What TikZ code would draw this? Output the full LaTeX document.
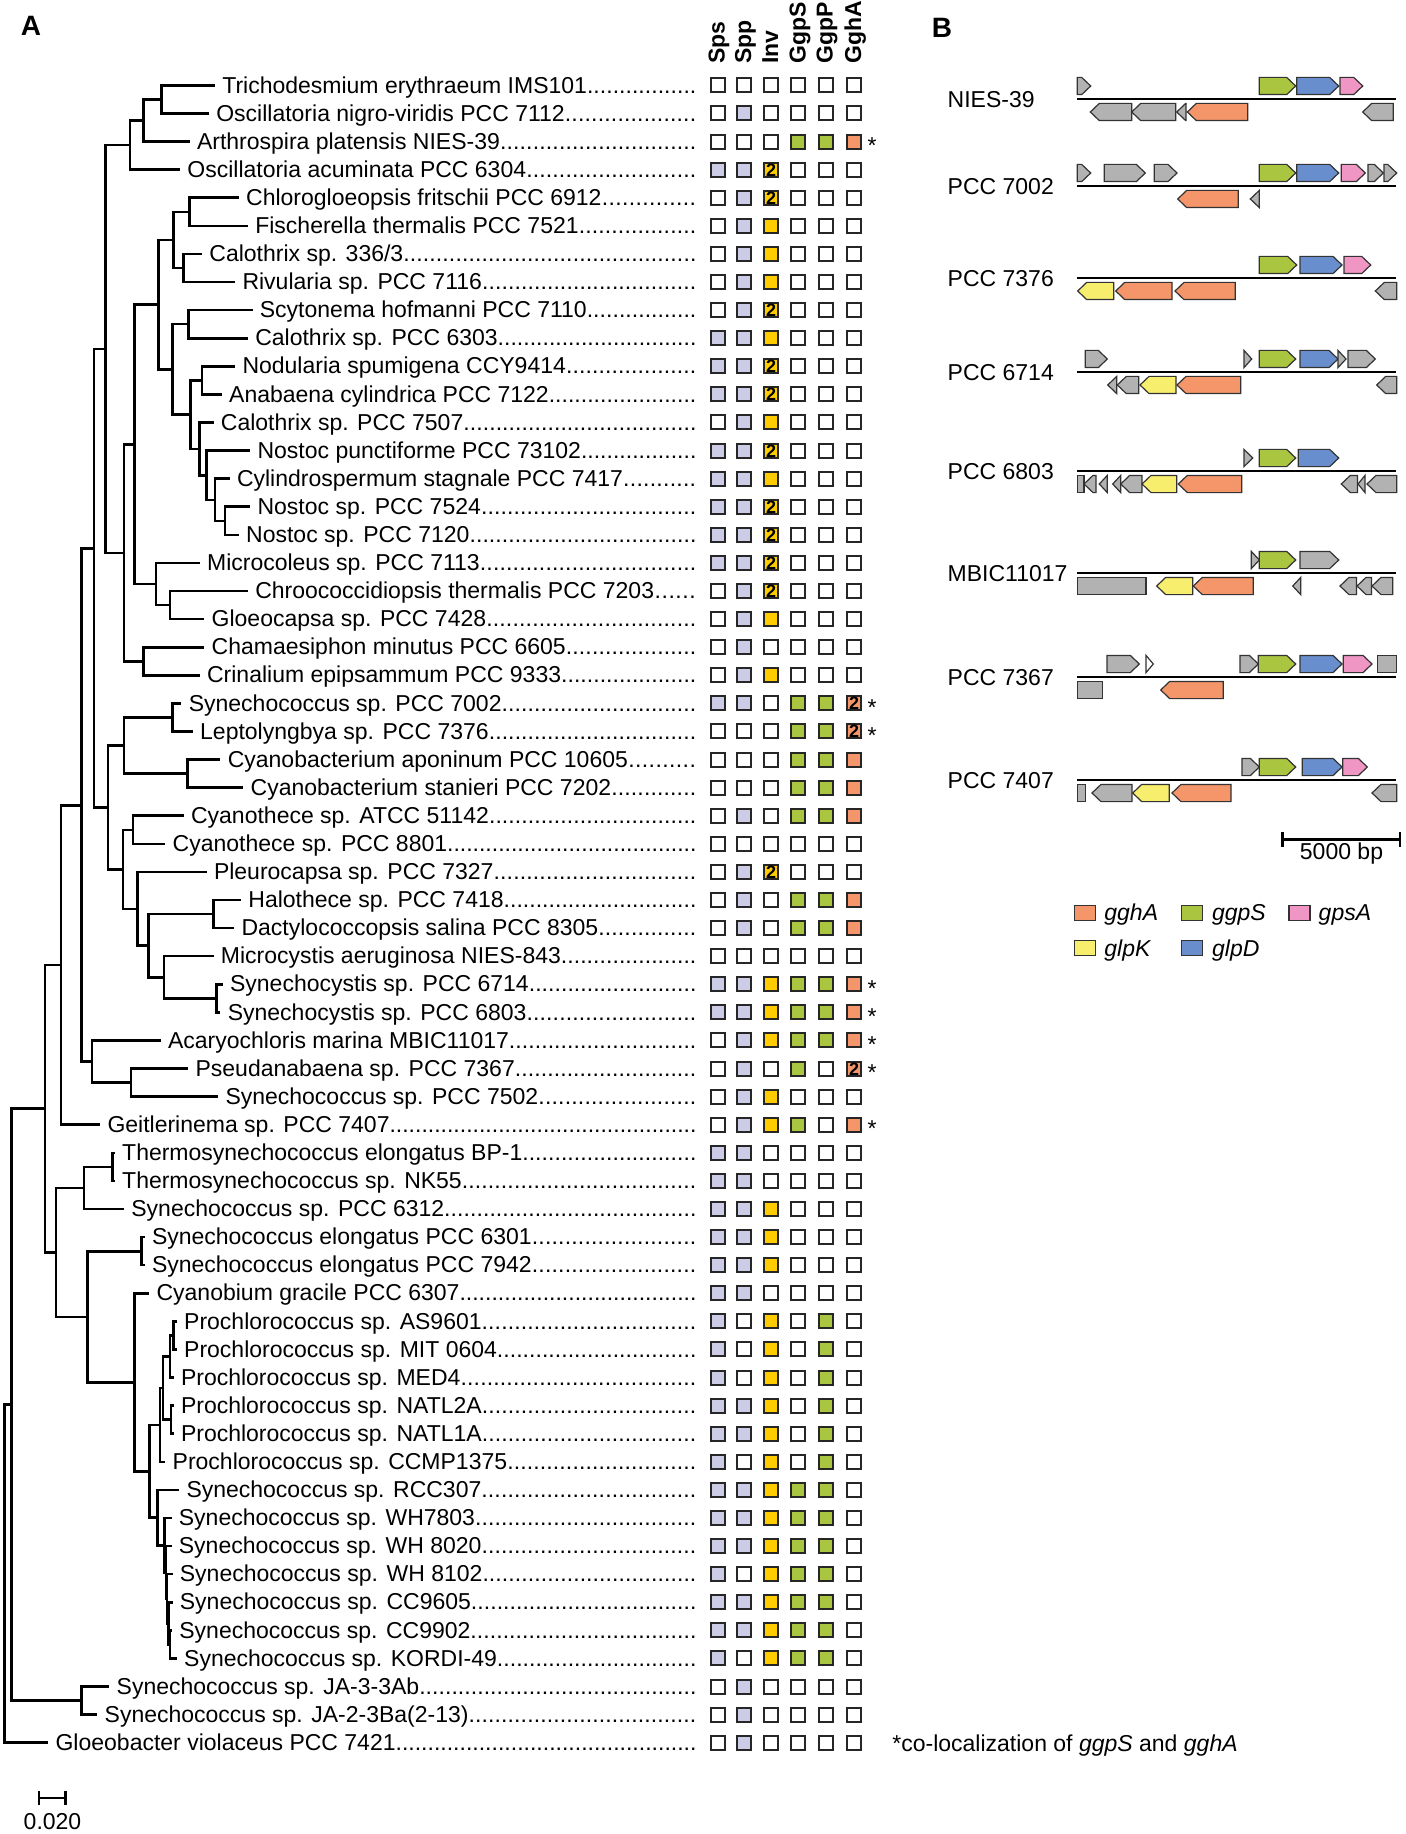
\documentclass[tikz,border=0pt]{standalone}
\usepackage{fontspec}
\setmainfont{Liberation Sans}
\definecolor{lav}{RGB}{204,204,230}
\definecolor{invy}{RGB}{255,204,0}
\definecolor{ggreen}{RGB}{170,197,64}
\definecolor{gorange}{RGB}{244,150,106}
\definecolor{ggray}{RGB}{178,178,178}
\definecolor{gblue}{RGB}{104,142,206}
\definecolor{gpink}{RGB}{240,150,196}
\definecolor{gyellow}{RGB}{248,238,110}
\newcommand\ft{\fontsize{11.5}{13.8}\selectfont}
\def\sqtT{2}
\def\sqtP{2}
\newcommand\taxon[4]{%
  \pgfmathsetmacro\ry{85.4+28.09*#2}%
  \pgfmathsetmacro\lx{#3+7}%
  \pgfmathsetmacro\tw{(696-#3-7)*0.5}%
  \coordinate (#1) at (#3,\ry);%
  \node[tax] (#1t) at (\lx,\ry+7.7) {\hbox to \tw pt{#4\xleaders\hbox{.}\hfill}};%
}
\newcommand\br[3]{\draw[brl] (#1) |- (#2) (#1) |- (#3);}
\newcommand\mrow[7]{%
  \pgfmathsetmacro\ry{round(85.4+28.09*#1)}%
  \node[sq,s#2] (m#1a) at (718,\ry) {\csname sqt#2\endcsname};%
  \node[sq,s#3] (m#1b) at (744,\ry) {\csname sqt#3\endcsname};%
  \node[sq,s#4] (m#1c) at (771,\ry) {\csname sqt#4\endcsname};%
  \node[sq,s#5] (m#1d) at (798,\ry) {\csname sqt#5\endcsname};%
  \node[sq,s#6] (m#1e) at (826,\ry) {\csname sqt#6\endcsname};%
  \node[sq,s#7] (m#1f) at (854,\ry) {\csname sqt#7\endcsname};%
}
\newcommand\stmark[1]{\pgfmathsetmacro\ry{85.4+28.09*#1}\node[starm] (st#1) at (872,\ry+12) {*};}
\newcommand\gU[4]{\pgfmathsetmacro\tp{min(9,#2-#1)}\filldraw[gene,fill=#4] (#1,#3-21.6) -- ({#2-\tp},#3-21.6) -- (#2,#3-13) -- ({#2-\tp},#3-4.4) -- (#1,#3-4.4) -- cycle;}
\newcommand\gD[4]{\pgfmathsetmacro\tp{min(9,#2-#1)}\filldraw[gene,fill=#4] (#1,#3+13) -- ({#1+\tp},#3+4.4) -- (#2,#3+4.4) -- (#2,#3+21.6) -- ({#1+\tp},#3+21.6) -- cycle;}
\newcommand\rU[4]{\filldraw[gene,fill=#4] (#1,#3-21.6) rectangle (#2,#3-4.4);}
\newcommand\rD[4]{\filldraw[gene,fill=#4] (#1,#3+4.4) rectangle (#2,#3+21.6);}
\begin{document}
\begin{tikzpicture}[x=0.5pt,y=-0.5pt,
  brl/.style={line width=1.3pt,black},
  tax/.style={anchor=base west,inner sep=0pt,font=\ft},
  hdr/.style={rotate=90,anchor=base west,inner sep=0pt,font=\ft\bfseries},
  sq/.style={draw=black!85,line width=1pt,minimum size=7pt,inner sep=0pt,font=\fontsize{9}{9}\bfseries\selectfont},
  s0/.style={fill=white}, sL/.style={fill=lav}, sY/.style={fill=invy}, sT/.style={fill=invy},
  sG/.style={fill=ggreen}, sO/.style={fill=gorange}, sP/.style={fill=gorange},
  starm/.style={anchor=base,inner sep=0pt,font=\ft},
  gene/.style={draw=black!80,line width=0.6pt,line join=miter},
  glab/.style={anchor=base west,inner sep=0pt,font=\ft},
  lgsq/.style={draw=black!80,line width=0.6pt,minimum width=10.5pt,minimum height=7.6pt,inner sep=0pt},
  panel/.style={inner sep=0pt,font=\fontsize{14}{16}\selectfont\bfseries}]
\fill[white] (0,0) rectangle (1406,1834);
\useasboundingbox (0,0) rectangle (1406,1834);

\node[panel] (pA) at (31,26) {A};
\node[panel] (pB) at (942,27.5) {B};

% headers
\node[hdr] (hSps) at (724.5,64) {Sps};
\node[hdr] (hSpp) at (751,64) {Spp};
\node[hdr] (hInv) at (778,64) {Inv};
\node[hdr] (hGgpS) at (805.5,64) {GgpS};
\node[hdr] (hGgpP) at (832.5,64) {GgpP};
\node[hdr] (hGghA) at (861,64) {GghA};

% taxa
\taxon{l0}{0}{214.9}{Trichodesmium erythraeum IMS101}
\taxon{l1}{1}{208.9}{Oscillatoria nigro-viridis PCC 7112}
\taxon{l2}{2}{189.6}{Arthrospira platensis NIES-39}
\taxon{l3}{3}{180.0}{Oscillatoria acuminata PCC 6304}
\taxon{l4}{4}{238.8}{Chlorogloeopsis fritschii PCC 6912}
\taxon{l5}{5}{247.9}{Fischerella thermalis PCC 7521}
\taxon{l6}{6}{202.0}{Calothrix sp. 336/3}
\taxon{l7}{7}{235.1}{Rivularia sp. PCC 7116}
\taxon{l8}{8}{252.5}{Scytonema hofmanni PCC 7110}
\taxon{l9}{9}{247.9}{Calothrix sp. PCC 6303}
\taxon{l10}{10}{235.1}{Nodularia spumigena CCY9414}
\taxon{l11}{11}{221.8}{Anabaena cylindrica PCC 7122}
\taxon{l12}{12}{213.5}{Calothrix sp. PCC 7507}
\taxon{l13}{13}{250.2}{Nostoc punctiforme PCC 73102}
\taxon{l14}{14}{229.6}{Cylindrospermum stagnale PCC 7417}
\taxon{l15}{15}{250.2}{Nostoc sp. PCC 7524}
\taxon{l16}{16}{238.8}{Nostoc sp. PCC 7120}
\taxon{l17}{17}{199.7}{Microcoleus sp. PCC 7113}
\taxon{l18}{18}{247.9}{Chroococcidiopsis thermalis PCC 7203}
\taxon{l19}{19}{204.3}{Gloeocapsa sp. PCC 7428}
\taxon{l20}{20}{204.3}{Chamaesiphon minutus PCC 6605}
\taxon{l21}{21}{199.7}{Crinalium epipsammum PCC 9333}
\taxon{l22}{22}{181.4}{Synechococcus sp. PCC 7002}
\taxon{l23}{23}{192.8}{Leptolyngbya sp. PCC 7376}
\taxon{l24}{24}{220.4}{Cyanobacterium aponinum PCC 10605}
\taxon{l25}{25}{243.3}{Cyanobacterium stanieri PCC 7202}
\taxon{l26}{26}{183.7}{Cyanothece sp. ATCC 51142}
\taxon{l27}{27}{165.3}{Cyanothece sp. PCC 8801}
\taxon{l28}{28}{206.6}{Pleurocapsa sp. PCC 7327}
\taxon{l29}{29}{241.0}{Halothece sp. PCC 7418}
\taxon{l30}{30}{234.2}{Dactylococcopsis salina PCC 8305}
\taxon{l31}{31}{213.5}{Microcystis aeruginosa NIES-843}
\taxon{l32}{32}{222.7}{Synechocystis sp. PCC 6714}
\taxon{l33}{33}{220.4}{Synechocystis sp. PCC 6803}
\taxon{l34}{34}{160.7}{Acaryochloris marina MBIC11017}
\taxon{l35}{35}{188.2}{Pseudanabaena sp. PCC 7367}
\taxon{l36}{36}{218.1}{Synechococcus sp. PCC 7502}
\taxon{l37}{37}{100.1}{Geitlerinema sp. PCC 7407}
\taxon{l38}{38}{114.8}{Thermosynechococcus elongatus BP-1}
\taxon{l39}{39}{114.8}{Thermosynechococcus sp. NK55}
\taxon{l40}{40}{124.0}{Synechococcus sp. PCC 6312}
\taxon{l41}{41}{144.6}{Synechococcus elongatus PCC 6301}
\taxon{l42}{42}{144.6}{Synechococcus elongatus PCC 7942}
\taxon{l43}{43}{149.2}{Cyanobium gracile PCC 6307}
\taxon{l44}{44}{176.8}{Prochlorococcus sp. AS9601}
\taxon{l45}{45}{176.8}{Prochlorococcus sp. MIT 0604}
\taxon{l46}{46}{173.6}{Prochlorococcus sp. MED4}
\taxon{l47}{47}{173.6}{Prochlorococcus sp. NATL2A}
\taxon{l48}{48}{173.6}{Prochlorococcus sp. NATL1A}
\taxon{l49}{49}{165.3}{Prochlorococcus sp. CCMP1375}
\taxon{l50}{50}{179.1}{Synechococcus sp. RCC307}
\taxon{l51}{51}{171.5}{Synechococcus sp. WH7803}
\taxon{l52}{52}{171.5}{Synechococcus sp. WH 8020}
\taxon{l53}{53}{172.5}{Synechococcus sp. WH 8102}
\taxon{l54}{54}{172.5}{Synechococcus sp. CC9605}
\taxon{l55}{55}{172.0}{Synechococcus sp. CC9902}
\taxon{l56}{56}{176.8}{Synechococcus sp. KORDI-49}
\taxon{l57}{57}{109.3}{Synechococcus sp. JA-3-3Ab}
\taxon{l58}{58}{97.3}{Synechococcus sp. JA-2-3Ba(2-13)}
\taxon{l59}{59}{48.2}{Gloeobacter violaceus PCC 7421}

% internal nodes
\coordinate (n01) at (161.6,99.5);
\coordinate (n012) at (143.7,120.6);
\coordinate (n0123) at (129.9,145.2);
\coordinate (n45) at (189.6,211.9);
\coordinate (n67) at (183.7,268.0);
\coordinate (n4567) at (173.6,240.0);
\coordinate (n89) at (188.2,324.2);
\coordinate (n1011) at (202.0,380.4);
\coordinate (n1516) at (225.0,520.8);
\coordinate (n1416) at (214.9,499.8);
\coordinate (n1316) at (206.6,475.2);
\coordinate (n1216) at (199.7,448.9);
\coordinate (nP) at (190.5,414.6);
\coordinate (nQ) at (172.2,369.4);
\coordinate (nR) at (158.4,304.7);
\coordinate (n1819) at (169.9,605.1);
\coordinate (nM) at (156.1,584.0);
\coordinate (nS) at (134.5,444.4);
\coordinate (n2021) at (143.7,661.3);
\coordinate (nT) at (124.0,552.8);
\coordinate (nX) at (105.6,349.0);
\coordinate (n2223) at (172.2,717.5);
\coordinate (n2425) at (187.3,773.7);
\coordinate (n2225) at (124.0,745.6);
\coordinate (n2627) at (133.1,829.8);
\coordinate (n2930) at (213.5,914.1);
\coordinate (n3233) at (216.7,998.4);
\coordinate (n3133) at (163.9,977.3);
\coordinate (n2933) at (148.3,945.7);
\coordinate (n2833) at (137.7,908.8);
\coordinate (n2633) at (123.0,869.3);
\coordinate (nZ) at (107.9,807.5);
\coordinate (nY) at (94.1,548.7);
\coordinate (n3536) at (130.9,1082.6);
\coordinate (n3436) at (91.8,1061.6);
\coordinate (nW) at (81.7,805.2);
\coordinate (nV) at (61.1,965.0);
\coordinate (n3839) at (112.5,1166.9);
\coordinate (n3840) at (84.0,1188.0);
\coordinate (n4142) at (141.4,1251.2);
\coordinate (n4445) at (173.6,1335.5);
\coordinate (n4446) at (169.9,1356.5);
\coordinate (n4748) at (170.8,1419.7);
\coordinate (n4448) at (163.0,1388.1);
\coordinate (n4449) at (159.8,1425.0);
\coordinate (n5556) at (170.0,1644.4);
\coordinate (n5456) at (168.5,1623.4);
\coordinate (n5356) at (167.0,1598.8);
\coordinate (n5256) at (166.0,1572.5);
\coordinate (n5156) at (164.5,1545.2);
\coordinate (n5056) at (157.5,1517.6);
\coordinate (n4456) at (149.2,1471.3);
\coordinate (n4356) at (134.5,1382.3);
\coordinate (n4156) at (87.2,1316.8);
\coordinate (n3856) at (56.0,1252.4);
\coordinate (nU) at (45.0,1108.7);
\coordinate (n5758) at (81.7,1700.6);
\coordinate (nK) at (11.5,1404.7);
\coordinate (nRoot) at (4.6,1573.7);

% branches
\br{n01}{l0}{l1}
\br{n012}{n01}{l2}
\br{n0123}{n012}{l3}
\br{n45}{l4}{l5}
\br{n67}{l6}{l7}
\br{n4567}{n45}{n67}
\br{n89}{l8}{l9}
\br{n1011}{l10}{l11}
\br{n1516}{l15}{l16}
\br{n1416}{l14}{n1516}
\br{n1316}{l13}{n1416}
\br{n1216}{l12}{n1316}
\br{nP}{n1011}{n1216}
\br{nQ}{n89}{nP}
\br{nR}{n4567}{nQ}
\br{n1819}{l18}{l19}
\br{nM}{l17}{n1819}
\br{nS}{nR}{nM}
\br{n2021}{l20}{l21}
\br{nT}{nS}{n2021}
\br{nX}{n0123}{nT}
\br{n2223}{l22}{l23}
\br{n2425}{l24}{l25}
\br{n2225}{n2223}{n2425}
\br{n2627}{l26}{l27}
\br{n2930}{l29}{l30}
\br{n3233}{l32}{l33}
\br{n3133}{l31}{n3233}
\br{n2933}{n2930}{n3133}
\br{n2833}{l28}{n2933}
\br{n2633}{n2627}{n2833}
\br{nZ}{n2225}{n2633}
\br{nY}{nX}{nZ}
\br{n3536}{l35}{l36}
\br{n3436}{l34}{n3536}
\br{nW}{nY}{n3436}
\br{nV}{nW}{l37}
\br{n3839}{l38}{l39}
\br{n3840}{n3839}{l40}
\br{n4142}{l41}{l42}
\br{n4445}{l44}{l45}
\br{n4446}{n4445}{l46}
\br{n4748}{l47}{l48}
\br{n4448}{n4446}{n4748}
\br{n4449}{n4448}{l49}
\br{n5556}{l55}{l56}
\br{n5456}{l54}{n5556}
\br{n5356}{l53}{n5456}
\br{n5256}{l52}{n5356}
\br{n5156}{l51}{n5256}
\br{n5056}{l50}{n5156}
\br{n4456}{n4449}{n5056}
\br{n4356}{l43}{n4456}
\br{n4156}{n4142}{n4356}
\br{n3856}{n3840}{n4156}
\br{nU}{nV}{n3856}
\br{n5758}{l57}{l58}
\br{nK}{nU}{n5758}
\br{nRoot}{nK}{l59}

% tree scale bar
\coordinate (sb1) at (39,1798);
\coordinate (sb2) at (65.7,1798);
\draw[line width=1.3pt] (sb1) -- (sb2);
\draw[line width=1.3pt] ([yshift=3.3pt]sb1) -- ([yshift=-3.3pt]sb1);
\draw[line width=1.3pt] ([yshift=3.3pt]sb2) -- ([yshift=-3.3pt]sb2);
\node[anchor=base,inner sep=0pt,font=\ft] (sbl) at (52.5,1829) {0.020};

% matrix
\mrow{0}{0}{0}{0}{0}{0}{0}
\mrow{1}{0}{L}{0}{0}{0}{0}
\mrow{2}{0}{0}{0}{G}{G}{O}
\mrow{3}{L}{L}{T}{0}{0}{0}
\mrow{4}{0}{L}{T}{0}{0}{0}
\mrow{5}{0}{L}{Y}{0}{0}{0}
\mrow{6}{0}{L}{Y}{0}{0}{0}
\mrow{7}{0}{L}{Y}{0}{0}{0}
\mrow{8}{0}{L}{T}{0}{0}{0}
\mrow{9}{L}{L}{Y}{0}{0}{0}
\mrow{10}{L}{L}{T}{0}{0}{0}
\mrow{11}{L}{L}{T}{0}{0}{0}
\mrow{12}{0}{L}{Y}{0}{0}{0}
\mrow{13}{L}{L}{T}{0}{0}{0}
\mrow{14}{L}{L}{Y}{0}{0}{0}
\mrow{15}{L}{L}{T}{0}{0}{0}
\mrow{16}{L}{L}{T}{0}{0}{0}
\mrow{17}{L}{L}{T}{0}{0}{0}
\mrow{18}{0}{L}{T}{0}{0}{0}
\mrow{19}{0}{L}{Y}{0}{0}{0}
\mrow{20}{0}{L}{0}{0}{0}{0}
\mrow{21}{0}{L}{Y}{0}{0}{0}
\mrow{22}{L}{L}{0}{G}{G}{P}
\mrow{23}{0}{0}{0}{G}{G}{P}
\mrow{24}{0}{0}{0}{G}{G}{O}
\mrow{25}{0}{0}{0}{G}{G}{O}
\mrow{26}{0}{L}{0}{G}{G}{O}
\mrow{27}{0}{0}{0}{0}{0}{0}
\mrow{28}{0}{L}{T}{0}{0}{0}
\mrow{29}{0}{L}{0}{G}{G}{O}
\mrow{30}{0}{L}{0}{G}{G}{O}
\mrow{31}{0}{0}{0}{0}{0}{0}
\mrow{32}{L}{L}{Y}{G}{G}{O}
\mrow{33}{L}{L}{Y}{G}{G}{O}
\mrow{34}{0}{L}{Y}{G}{G}{O}
\mrow{35}{0}{L}{0}{G}{0}{P}
\mrow{36}{0}{L}{Y}{0}{0}{0}
\mrow{37}{0}{L}{Y}{G}{0}{O}
\mrow{38}{L}{L}{0}{0}{0}{0}
\mrow{39}{L}{L}{0}{0}{0}{0}
\mrow{40}{L}{L}{Y}{0}{0}{0}
\mrow{41}{L}{L}{Y}{0}{0}{0}
\mrow{42}{L}{L}{Y}{0}{0}{0}
\mrow{43}{L}{L}{0}{0}{0}{0}
\mrow{44}{L}{0}{Y}{0}{G}{0}
\mrow{45}{L}{0}{Y}{0}{G}{0}
\mrow{46}{L}{0}{Y}{0}{G}{0}
\mrow{47}{L}{L}{Y}{0}{G}{0}
\mrow{48}{L}{L}{Y}{0}{G}{0}
\mrow{49}{L}{0}{Y}{0}{G}{0}
\mrow{50}{L}{L}{Y}{G}{G}{0}
\mrow{51}{L}{L}{Y}{G}{G}{0}
\mrow{52}{L}{L}{Y}{G}{G}{0}
\mrow{53}{L}{0}{Y}{G}{G}{0}
\mrow{54}{L}{L}{Y}{G}{G}{0}
\mrow{55}{L}{L}{Y}{G}{G}{0}
\mrow{56}{L}{0}{Y}{G}{G}{0}
\mrow{57}{0}{L}{0}{0}{0}{0}
\mrow{58}{0}{L}{0}{0}{0}{0}
\mrow{59}{0}{L}{0}{0}{0}{0}
\stmark{2}\stmark{22}\stmark{23}\stmark{32}\stmark{33}\stmark{34}\stmark{35}\stmark{37}
\node[anchor=base west,inner sep=0pt,font=\ft] (foot) at (892,1751) {*co-localization of \textit{ggpS} and \textit{gghA}};

% panel B labels and lines
\foreach \nm/\ly/\lab in {b1/99/NIES-39,b2/186/PCC 7002,b3/278/PCC 7376,b4/372/PCC 6714,b5/471/PCC 6803,b6/573/MBIC11017,b7/677/PCC 7367,b8/780/PCC 7407}{
  \node[glab] (\nm) at (947.3,\ly+8.2) {\lab};
  \draw[line width=1pt] (1077,\ly) -- (1396,\ly);
}
% NIES-39
\gU{1077.3}{1090.7}{99}{ggray}\gU{1259.3}{1295.7}{99}{ggreen}\gU{1296.7}{1338.7}{99}{gblue}\gU{1340}{1362.7}{99}{gpink}
\gD{1090.3}{1131.7}{99}{ggray}\gD{1131.7}{1175.7}{99}{ggray}\gD{1176.7}{1186}{99}{ggray}\gD{1187.3}{1247.7}{99}{gorange}\gD{1362.7}{1393.3}{99}{ggray}
% PCC 7002
\gU{1077.3}{1090.7}{186}{ggray}\gU{1104.3}{1145.3}{186}{ggray}\gU{1154.3}{1177}{186}{ggray}\gU{1259.3}{1295.7}{186}{ggreen}\gU{1296.7}{1338.7}{186}{gblue}\gU{1341.3}{1365.3}{186}{gpink}\gU{1368}{1383.3}{186}{ggray}\gU{1384}{1396.7}{186}{ggray}
\gD{1177.7}{1238.3}{186}{gorange}\gD{1250.3}{1259.3}{186}{ggray}
% PCC 7376
\gU{1259.3}{1296.7}{278}{ggreen}\gU{1300}{1342}{278}{gblue}\gU{1344}{1370.7}{278}{gpink}
\gD{1077.7}{1113.7}{278}{gyellow}\gD{1115.7}{1172}{278}{gorange}\gD{1175}{1235.3}{278}{gorange}\gD{1375.3}{1396.7}{278}{ggray}
% PCC 6714
\gU{1085.3}{1107.3}{372}{ggray}\gU{1244}{1251.7}{372}{ggray}\gU{1259.3}{1295.7}{372}{ggreen}\gU{1300}{1338}{372}{gblue}\gU{1338}{1346}{372}{ggray}\gU{1348}{1375.3}{372}{ggray}
\gD{1107.7}{1116.7}{372}{ggray}\gD{1117.3}{1138.7}{372}{ggray}\gD{1140}{1176}{372}{gyellow}\gD{1177}{1240.7}{372}{gorange}\gD{1376.7}{1396.7}{372}{ggray}
% PCC 6803
\gU{1244}{1252.7}{471}{ggray}\gU{1259.3}{1295.7}{471}{ggreen}\gU{1298.3}{1338.7}{471}{gblue}
\rD{1077.3}{1084}{471}{ggray}\gD{1084}{1096}{471}{ggray}\gD{1099.3}{1107.3}{471}{ggray}\gD{1112.7}{1120.7}{471}{ggray}\gD{1120.7}{1142}{471}{ggray}\gD{1142}{1176.7}{471}{gyellow}\gD{1178.3}{1241.7}{471}{gorange}
\gD{1341.3}{1357.5}{471}{ggray}\gD{1358}{1365}{471}{ggray}\gD{1367}{1396.7}{471}{ggray}
% MBIC11017
\gU{1251.3}{1259.3}{573}{ggray}\gU{1259.3}{1295.7}{573}{ggreen}\gU{1300}{1338.7}{573}{ggray}
\rD{1077.3}{1146}{573}{ggray}\gD{1156.7}{1192.7}{573}{gyellow}\gD{1193.3}{1253.3}{573}{gorange}\gD{1292.7}{1300.7}{573}{ggray}\gD{1340}{1356.5}{573}{ggray}\gD{1357}{1371.5}{573}{ggray}\gD{1372}{1392.7}{573}{ggray}
% PCC 7367
\gU{1107}{1139.3}{677}{ggray}\gU{1146}{1153.3}{677}{white}\gU{1240}{1258.3}{677}{ggray}\gU{1258.3}{1295.7}{677}{ggreen}\gU{1300}{1342}{677}{gblue}\gU{1343.3}{1372}{677}{gpink}\rU{1377.3}{1396.7}{677}{ggray}
\rD{1077.3}{1102.7}{677}{ggray}\gD{1160.7}{1223.3}{677}{gorange}
% PCC 7407
\gU{1242}{1259.3}{780}{ggray}\gU{1259.3}{1295.7}{780}{ggreen}\gU{1302.3}{1342}{780}{gblue}\gU{1342.7}{1367.3}{780}{gpink}
\rD{1077.3}{1085.3}{780}{ggray}\gD{1092}{1132}{780}{ggray}\gD{1132.7}{1169.3}{780}{gyellow}\gD{1172}{1231}{780}{gorange}\gD{1372}{1396.7}{780}{ggray}

% bp scale bar
\coordinate (bs1) at (1282.3,839.5);
\coordinate (bs2) at (1400,839.5);
\draw[line width=1.2pt] (bs1) -- (bs2);
\draw[line width=1.2pt] ([yshift=3.6pt]bs1) -- ([yshift=-3.6pt]bs1);
\draw[line width=1.2pt] ([yshift=3.6pt]bs2) -- ([yshift=-3.6pt]bs2);
\node[anchor=base,inner sep=0pt,font=\ft] (bsl) at (1341.5,859.7) {5000 bp};

% legend
\node[lgsq,fill=gorange] (k1) at (1085.3,912.7) {};
\node[glab] (k1t) at (1104,920.9) {\itshape gghA};
\node[lgsq,fill=ggreen] (k2) at (1191.7,912.7) {};
\node[glab] (k2t) at (1211.7,920.9) {\itshape ggpS};
\node[lgsq,fill=gpink] (k3) at (1299.5,912.7) {};
\node[glab] (k3t) at (1318.3,920.9) {\itshape gpsA};
\node[lgsq,fill=gyellow] (k4) at (1085.3,947.8) {};
\node[glab] (k4t) at (1104,956) {\itshape glpK};
\node[lgsq,fill=gblue] (k5) at (1191.7,947.8) {};
\node[glab] (k5t) at (1211.7,956) {\itshape glpD};
\end{tikzpicture}
\end{document}
